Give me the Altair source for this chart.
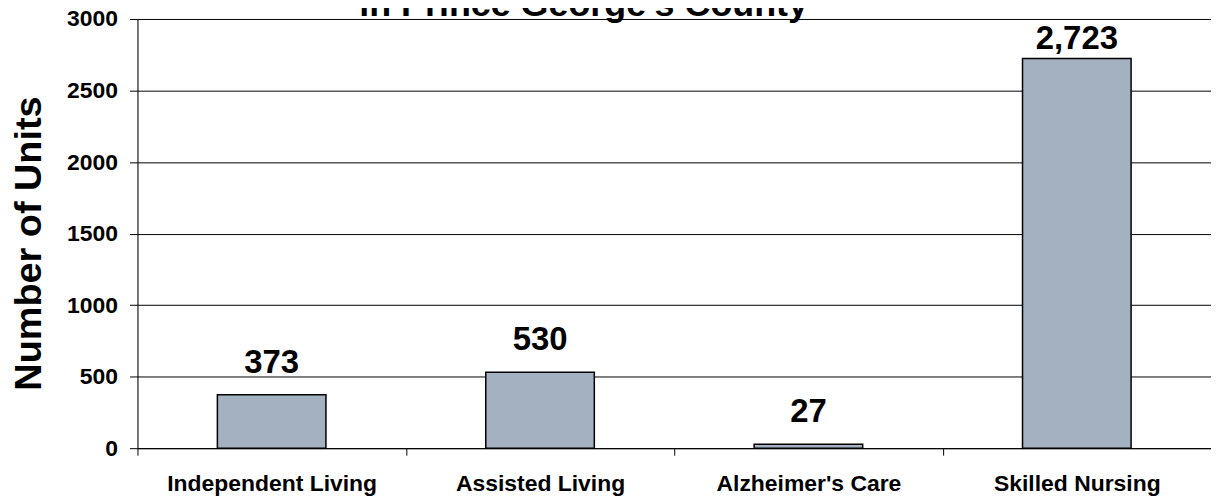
import altair as alt
import pandas as pd

categories = ["Independent Living", "Assisted Living", "Alzheimer's Care", "Skilled Nursing"]
units = [373, 530, 27, 2723]
title_lines = ["in Prince George's County"]
y_ticks = [0, 500, 1000, 1500, 2000, 2500, 3000]

FONT = "Liberation Sans"

df = pd.DataFrame({"category": categories, "units": units})
df["label"] = [f"{v:,}" for v in units]
title_df = pd.DataFrame({"t": title_lines})

x_enc = alt.X(
    "category:N",
    sort=categories,
    scale=alt.Scale(paddingInner=0, paddingOuter=0),
    axis=alt.Axis(
        title=None, labelAngle=0, labelFont=FONT, labelFontSize=23,
        labelFontWeight="bold", labelColor="black", labelPadding=17,
        labelLimit=0,
        tickBand="extent", tickSize=7, tickColor="black", tickWidth=1,
        domainColor="black", domainWidth=1, grid=False,
    ),
)
y_enc = alt.Y(
    "units:Q",
    scale=alt.Scale(domain=[0, 3000], nice=False),
    axis=alt.Axis(
        values=y_ticks, format="d", title="Number of Units", titleFont=FONT,
        titleFontSize=38, titleFontWeight="bold", titleColor="black",
        titleX=-97, titleY=225, titleBaseline="alphabetic", titleAlign="center",
        labelFont=FONT, labelFontSize=23, labelFontWeight="bold",
        labelColor="black", labelPadding=12, tickSize=8, tickColor="black",
        domainColor="black", gridColor="black", gridWidth=1, gridOpacity=1,
    ),
)

base = alt.Chart(df)

bars = base.mark_bar(
    width=alt.RelativeBandSize(0.4045), color="#A3B1C0", stroke="black", strokeWidth=1.5
).encode(x=x_enc, y=y_enc)

labels_low = base.transform_filter(alt.datum.units < 2500).mark_text(
    font=FONT, fontSize=33, fontWeight="bold", color="black",
    baseline="alphabetic", align="center", dy=-22,
).encode(x=alt.X("category:N", sort=categories), y="units:Q", text="label:N")

labels_high = base.transform_filter(alt.datum.units >= 2500).mark_text(
    font=FONT, fontSize=33, fontWeight="bold", color="black",
    baseline="alphabetic", align="center", dy=-10,
).encode(x=alt.X("category:N", sort=categories), y="units:Q", text="label:N")

title = alt.Chart(title_df).mark_text(
    font=FONT, fontSize=36, fontWeight="bold", color="black",
    baseline="alphabetic", align="center",
).encode(x=alt.value(448), y=alt.value(-3), text="t:N")

chart = alt.layer(bars, labels_low, labels_high, title).properties(
    width=1078, height=431,
    autosize=alt.AutoSizeParams(type="none"),
    padding={"left": 130, "top": 10, "right": 0, "bottom": 48},
).configure_view(stroke=None).configure(background="white")

chart.save("out.html", embed_options={"renderer": "svg", "actions": False})
